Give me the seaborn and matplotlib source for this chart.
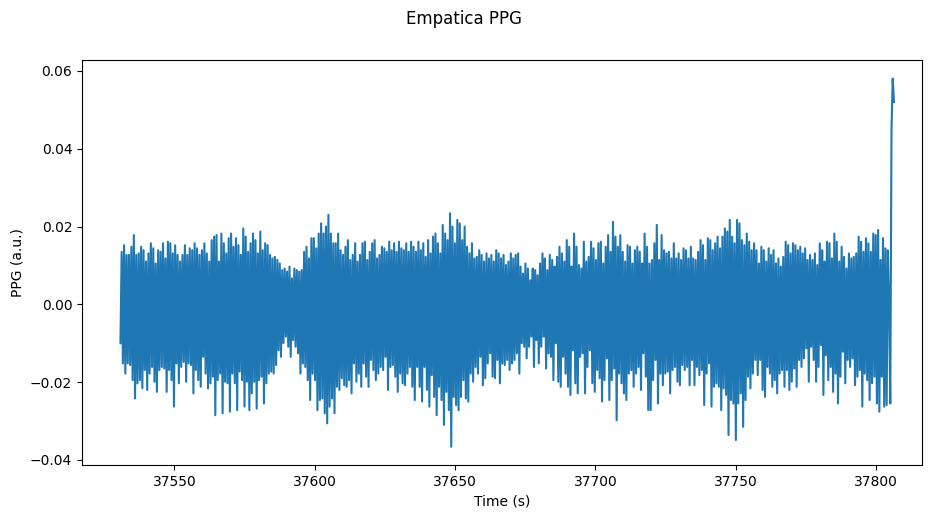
import numpy as np
import pandas as pd
import matplotlib
matplotlib.use("Agg")
import matplotlib.pyplot as plt
import seaborn as sns

# Recording window (s)
T_START = 37530.8
T_END = 37806.4

# Beat-to-beat pulse maxima, in 1e-3 a.u.
pulse_peaks = [
    13.5, 15.2, 12.7, 12.7, 14.8, 17.8, 12.7, 13.1, 14.8, 13.9, 11.0, 13.1, 15.7, 14.4, 10.5, 13.9,
    13.5, 15.7, 11.8, 16.1, 15.7, 13.1, 15.2, 12.7, 11.0, 12.7, 15.2, 12.7, 14.4, 13.9, 15.7, 14.4,
    12.7, 13.9, 15.7, 13.1, 11.0, 16.5, 17.4, 17.8, 11.0, 18.2, 15.7, 13.1, 17.0, 18.2, 14.8, 17.0,
    15.2, 12.7, 19.5, 17.4, 13.5,
    15.7, 18.2, 16.5, 13.1, 18.7, 13.9, 15.7, 15.2, 12.7, 11.8, 12.2, 11.4, 10.5, 8.8, 9.2, 8.4,
    9.7, 6.7, 9.2, 8.8, 8.4, 8.8, 13.5, 14.8, 11.8, 17.0, 17.0, 14.4, 18.2, 20.8, 18.2, 20.0,
    23.0, 18.2, 15.7, 15.7, 18.2, 13.9, 12.7, 14.8, 16.5, 11.4, 12.7, 15.7, 11.0, 12.7, 15.7, 16.1,
    11.4, 13.5, 15.7, 16.5, 11.8, 12.7, 14.8,
    14.4, 13.5, 16.1, 13.9, 15.7, 13.5, 16.1, 14.4, 13.9, 15.7, 13.5, 16.1, 14.8, 13.5, 16.1, 13.9,
    15.7, 12.2, 16.5, 13.1, 17.4, 18.2, 15.7, 13.1, 20.4, 18.2, 16.5, 23.4, 20.0, 15.7, 21.7, 20.8,
    16.5, 20.0, 14.8, 13.1, 15.7, 11.8, 12.2, 13.9, 12.7, 11.0, 13.1, 11.8, 12.7, 11.0, 13.9, 13.1,
    11.8, 12.7, 10.1, 11.0, 13.1, 11.8, 12.7,
    13.1, 9.7, 7.9, 10.5, 9.2, 6.2, 9.2, 8.8, 7.5, 10.5, 13.1, 11.8, 8.8, 12.7, 11.4, 9.7,
    12.2, 14.8, 13.1, 11.0, 16.5, 14.8, 9.7, 18.2, 14.8, 10.1, 9.2, 16.1, 11.0, 12.2, 16.1, 14.4,
    11.4, 15.7, 16.1, 10.5, 14.8, 17.8, 13.5, 21.2, 17.4, 14.8, 17.8, 13.5, 11.0, 15.2, 14.8, 10.5,
    13.9, 14.8, 13.5, 10.5, 18.2, 14.8, 10.5,
    11.4, 15.7, 20.4, 11.4, 17.8, 13.9, 13.1, 13.5, 11.8, 15.7, 11.8, 13.1, 11.4, 14.4, 13.9, 11.8,
    14.8, 11.8, 11.4, 13.5, 16.5, 15.2, 11.4, 17.0, 16.5, 13.9, 15.7, 17.4, 14.4, 17.4, 19.5, 18.7,
    21.7, 17.4, 15.7, 21.7, 20.8, 16.5, 15.2, 18.2, 16.1, 13.9, 15.7, 13.9, 10.5, 14.8, 13.9, 11.0,
    14.4, 12.7, 13.9, 10.5, 11.8, 9.7, 12.2,
    16.1, 15.2, 13.1, 15.7, 15.2, 13.9, 14.8, 13.1, 14.4, 11.4, 12.7, 11.4, 13.1, 10.1, 15.7, 13.9,
    11.0, 16.1, 15.7, 11.8, 18.2, 16.1, 11.0, 14.8, 12.2, 9.2, 13.1, 11.8, 12.2, 13.1, 17.4, 16.1,
    13.5, 17.0, 15.7, 13.5, 18.2, 17.8, 19.1, 11.4, 17.0, 14.4, 13.9,
]

# Beat-to-beat pulse minima, in 1e-3 a.u.
pulse_troughs = [
    -10.0, -15.2, -17.8, -15.2, -15.6, -19.5, -24.2, -20.3, -19.5, -21.6, -16.9, -22.0, -17.8, -16.1,
    -19.9, -22.5, -16.9, -16.1, -16.5, -22.5, -16.9, -19.5, -26.3, -15.2, -20.3, -16.1, -14.8, -19.9,
    -15.2, -15.6, -22.9, -16.9, -19.5, -21.2, -13.5, -17.8, -21.6, -20.3, -18.6, -28.5, -19.5, -17.8,
    -28.0, -19.9, -20.3, -27.6, -17.8, -20.3, -27.2, -17.3, -19.5, -26.3, -19.9,
    -27.2, -22.9, -19.9, -26.8, -19.5, -18.6, -25.5, -20.3, -17.8, -17.3, -17.8, -15.6, -11.8, -13.5,
    -10.0, -8.3, -10.9, -13.5, -9.2, -10.9, -12.6, -17.8, -15.2, -16.1, -19.5, -24.6, -17.8, -19.5,
    -27.2, -24.6, -24.2, -28.0, -30.6, -26.3, -24.2, -28.0, -21.2, -22.0, -19.0, -20.8, -21.2, -19.5,
    -22.9, -15.2, -19.9, -17.8, -21.2, -15.2, -18.6, -21.2, -14.3, -16.9, -19.5, -17.8, -16.1,
    -16.9, -13.5, -22.0, -16.1, -15.6, -18.6, -22.5, -17.8, -20.3, -20.8, -17.8, -16.1, -21.2, -24.6,
    -16.1, -21.2, -25.0, -16.1, -22.0, -26.3, -18.2, -23.8, -28.5, -21.2, -24.6, -31.0, -22.5, -27.2,
    -36.6, -23.8, -25.9, -27.2, -23.8, -19.5, -24.2, -25.0, -17.8, -19.9, -16.1, -17.8, -13.5, -20.8,
    -19.0, -15.2, -12.6, -18.6, -19.0, -14.3, -20.3, -15.2, -15.6, -14.3, -16.9, -15.2, -14.3,
    -12.6, -17.8, -10.0, -10.9, -13.9, -10.9, -8.3, -16.1, -9.2, -15.2, -10.9, -8.3, -16.5, -12.6,
    -13.5, -19.5, -10.0, -19.9, -21.2, -13.5, -17.8, -21.2, -23.3, -11.8, -20.3, -22.9, -13.5, -12.6,
    -22.9, -16.1, -11.8, -20.3, -22.5, -16.9, -19.0, -25.0, -19.5, -13.9, -24.6, -19.5, -16.5, -29.8,
    -17.8, -20.3, -22.9, -24.6, -17.8, -16.9, -21.2, -17.8, -16.1, -22.0, -12.6, -18.6, -27.2,
    -27.2, -19.5, -14.3, -25.5, -17.8, -20.8, -17.8, -17.3, -22.9, -16.9, -16.1, -19.9, -20.8, -15.6,
    -16.9, -16.1, -20.8, -14.3, -20.8, -16.1, -18.2, -16.9, -25.9, -17.8, -15.2, -26.3, -21.2, -20.3,
    -21.2, -27.2, -21.6, -23.3, -33.6, -24.6, -25.5, -34.9, -25.5, -22.9, -31.5, -24.6, -18.6, -21.6,
    -17.8, -14.3, -18.2, -14.3, -22.0, -23.8, -16.1, -17.8, -21.2, -19.5, -22.9, -17.8, -16.9,
    -21.2, -16.9, -22.0, -19.9, -16.5, -21.2, -14.3, -16.1, -13.9, -11.3, -19.9, -10.9, -14.3, -19.9,
    -16.1, -10.5, -23.3, -13.1, -19.5, -16.1, -22.5, -17.8, -25.5, -18.6, -12.2, -20.3, -14.3, -16.1,
    -13.9, -20.8, -18.6, -16.9, -26.3, -17.8, -19.5, -24.6, -20.3, -18.6, -25.5, -27.6, -18.6, -26.3,
    -25.9,
]

# Sensor transient at the end of the recording, in 1e-3 a.u.
end_transient = [0.3, -25.5, 44.8, 58.0, 52.0]

# Interleave minima and maxima into one pulse trace, sampled evenly in time
beats = np.column_stack([pulse_troughs, pulse_peaks]).ravel()
ppg = np.concatenate([beats, end_transient]) * 1e-3
time = np.linspace(T_START, T_END, ppg.size)
df = pd.DataFrame({"Time (s)": time, "PPG (a.u.)": ppg})

fig = plt.figure(figsize=(9.29, 5.15), dpi=100)
ax = fig.add_axes([82 / 929, 50 / 515, 840 / 929, 405 / 515])
sns.lineplot(data=df, x="Time (s)", y="PPG (a.u.)", ax=ax, color="#1f77b4",
             linewidth=1.5, estimator=None, sort=False)
ax.set_xlim(37517.1, 37816.4)
ax.set_ylim(-0.0413, 0.0628)
fig.suptitle("Empatica PPG")
fig.savefig("out.png", dpi=100)
